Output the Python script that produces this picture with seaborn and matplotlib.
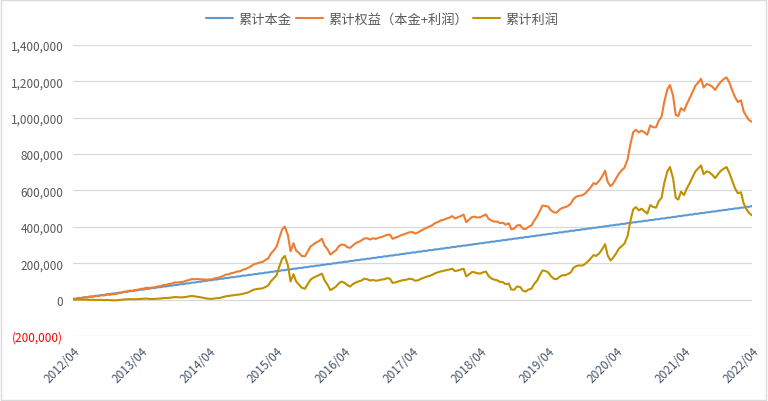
import pandas as pd
import seaborn as sns
import matplotlib.pyplot as plt

# 半月数据 2012/04 - 2022/04（每月 1 日、15 日）
days = pd.date_range("2012-04-01", "2022-04-01", freq="SMS")

# 每月累计本金
principal_monthly = [
    4250, 8500, 12750, 17000, 21250, 25500, 29750, 34000, 38250, 42500,
    46750, 51000, 55250, 59500, 63750, 68000, 72250, 76500, 80750, 85000,
    89250, 93500, 97750, 102000, 106250, 110500, 114750, 119000, 123250, 127500,
    131750, 136000, 140250, 144500, 148750, 153000, 157250, 161500, 165750, 170000,
    174250, 178500, 182750, 187000, 191250, 195500, 199750, 204000, 208250, 212500,
    216750, 221000, 225250, 229500, 233750, 238000, 242250, 246500, 250750, 255000,
    259250, 263500, 267750, 272000, 276250, 280500, 284750, 289000, 293250, 297500,
    301750, 306000, 310250, 314500, 318750, 323000, 327250, 331500, 335750, 340000,
    344250, 348500, 352750, 357000, 361250, 365500, 369750, 374000, 378250, 382500,
    386750, 391000, 395250, 399500, 403750, 408000, 412250, 416500, 420750, 425000,
    429250, 433500, 437750, 442000, 446250, 450500, 454750, 459000, 463250, 467500,
    471750, 476000, 480250, 484500, 488750, 493000, 497250, 501500, 505750, 510000,
    514250,
]

# 累计利润（千元），每行 5 个月
profit_k = [
    0, 0, 1, 0, 0, -1, -1, -1, -2, -2,
    -1, -3, -2, -3, -4, -4, -3, -1, 1, 2,
    3, 2, 2, 3, 4, 5, 6, 4, 3, 4,
    5, 6, 8, 9, 10, 12, 14, 13, 12, 13,
    15, 18, 20, 18, 16, 13, 10, 7, 5, 4,
    6, 8, 9, 14, 18, 20, 22, 25, 27, 28,
    32, 36, 40, 48, 55, 58, 60, 62, 70, 78,
    100, 115, 134, 180, 225, 240, 188, 100, 140, 100,
    80, 65, 60, 85, 110, 120, 128, 135, 143, 106,
    80, 52, 62, 72, 90, 99, 92, 80, 72, 85,
    95, 100, 105, 115, 112, 105, 108, 104, 106, 110,
    112, 118, 115, 92, 95, 100, 105, 108, 110, 115,
    112, 104, 106, 114, 120, 126, 130, 136, 145, 150,
    155, 158, 161, 165, 170, 157, 160, 165, 170, 128,
    140, 152, 150, 145, 143, 150, 154, 130, 115, 110,
    106, 98, 95, 85, 88, 55, 55, 72, 70, 50,
    44, 55, 60, 85, 106, 135, 160, 158, 150, 130,
    115, 112, 125, 134, 134, 140, 150, 175, 185, 188,
    187, 195, 210, 225, 245, 240, 255, 275, 305, 243,
    215, 230, 255, 280, 295, 308, 350, 427, 495, 509,
    490, 500, 485, 473, 520, 510, 505, 540, 560, 640,
    705, 729, 665, 560, 550, 593, 575, 610, 640, 670,
    705, 720, 738, 690, 705, 700, 685, 668, 690, 708,
    720, 729, 695, 655, 610, 585, 590, 530, 500, 478,
    463,
]

month_idx = [(d.year - 2012) * 12 + d.month - 4 for d in days]
principal = [principal_monthly[i] for i in month_idx]
profit = [v * 1000 for v in profit_k]
equity = [p + q for p, q in zip(principal, profit)]

series_names = ["累计本金", "累计权益（本金+利润）", "累计利润"]
colors = ["#5B9BD5", "#ED7D31", "#BF9000"]

df = pd.DataFrame({
    "date": list(days) * 3,
    "value": principal + equity + profit,
    "series": [series_names[0]] * len(days) + [series_names[1]] * len(days)
              + [series_names[2]] * len(days),
})

sns.set_theme(style="white")
plt.rcParams["font.family"] = ["Noto Sans CJK SC", "DejaVu Sans"]

fig = plt.figure(figsize=(7.68, 4.02), dpi=100)
ax = fig.add_axes([0.0951, 0.1617, 0.884, 0.724])

sns.lineplot(data=df, x="date", y="value", hue="series", hue_order=series_names,
             palette=colors, linewidth=1.5, ax=ax, legend=False)

yticks = list(range(-200000, 1400001, 200000))
ax.set_ylim(-200000, 1400000)
ax.set_yticks(yticks)
ax.set_yticklabels([f"{v:,}" if v >= 0 else f"({-v:,})" for v in yticks])
for lab, v in zip(ax.get_yticklabels(), yticks):
    lab.set_color("#FF0000" if v < 0 else "#595959")
    lab.set_fontsize(8.5)

xticks = pd.date_range("2012-04-01", "2022-04-01", freq="12MS")
ax.set_xlim(days[0], days[-1])
ax.set_xticks(xticks)
ax.set_xticklabels([d.strftime("%Y/%m") for d in xticks], rotation=45, ha="right",
                   rotation_mode="anchor", fontsize=8.5, color="#44546A")

ax.grid(axis="y", color="#D9D9D9", linewidth=0.9)
ax.grid(axis="x", visible=False)
for s in ax.spines.values():
    s.set_visible(False)
ax.tick_params(axis="both", length=0)
ax.tick_params(axis="y", pad=7)
ax.tick_params(axis="x", pad=6)
ax.set_xlabel("")
ax.set_ylabel("")

handles = [plt.Line2D([], [], color=c, linewidth=1.5) for c in colors]
fig.legend(handles, series_names, loc="center", bbox_to_anchor=(0.498, 0.95), ncol=3,
           frameon=False, fontsize=9.5, labelcolor="#595959", handlelength=2.0,
           handletextpad=0.45, columnspacing=0.35)

fig.patches.append(plt.Rectangle((0.001, 0.002), 0.997, 0.996, transform=fig.transFigure,
                                 fill=False, edgecolor="#D9D9D9", linewidth=1))

fig.savefig("out.png", dpi=100)
